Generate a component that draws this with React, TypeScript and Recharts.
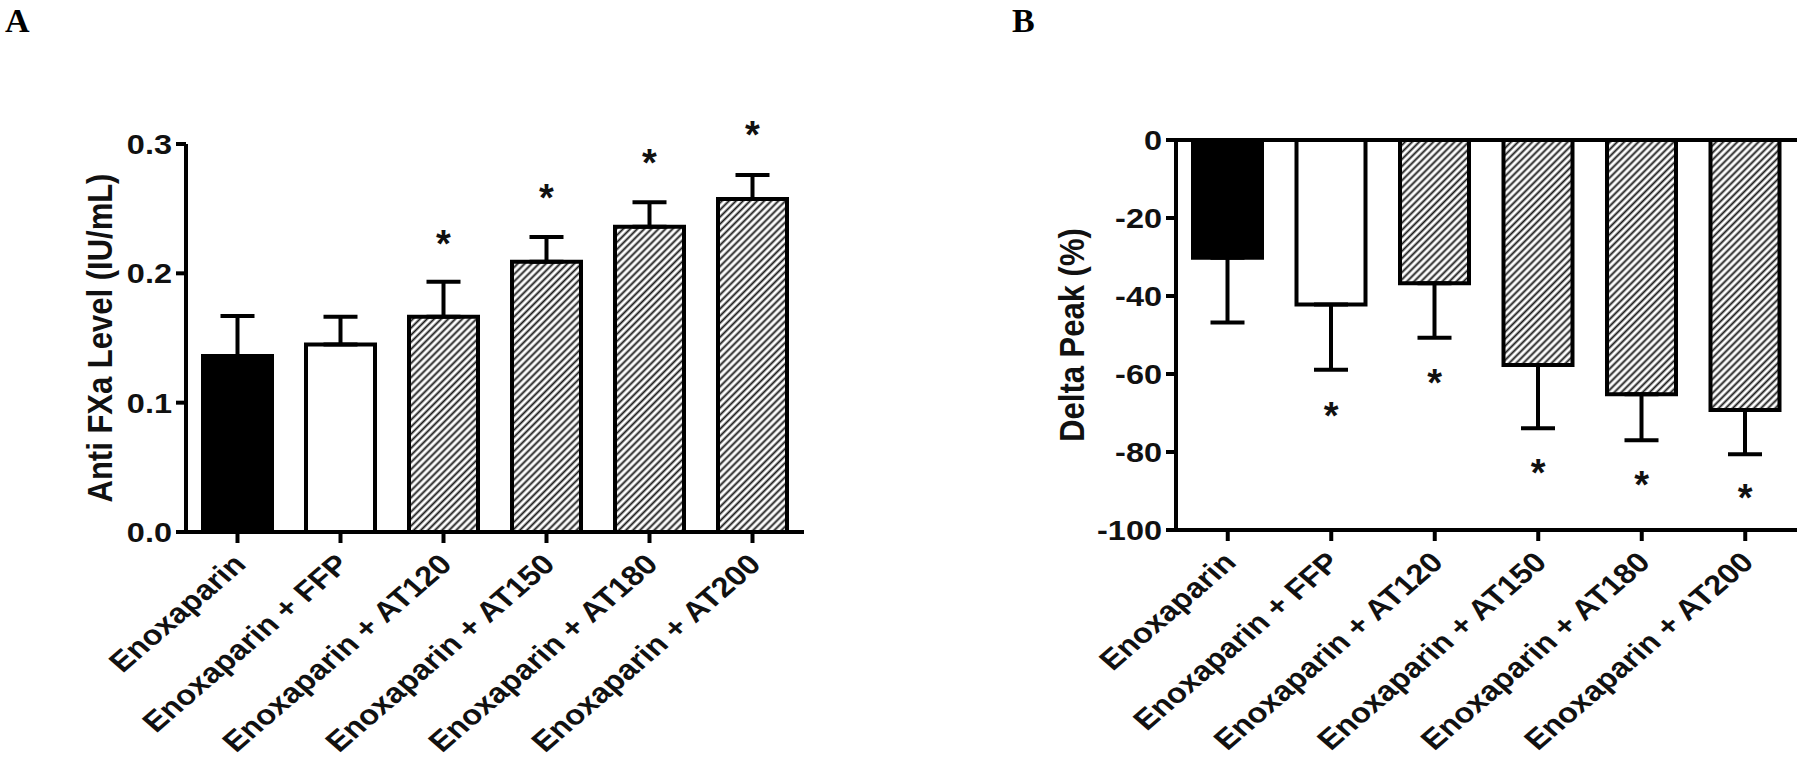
import React from "react";
import {
  ComposedChart,
  Bar,
  Cell,
  XAxis,
  YAxis,
  ErrorBar,
  Line,
  LabelList,
  ReferenceLine,
} from "recharts";

/* ---------------- Data ---------------- */

const GROUPS = [
  "Enoxaparin",
  "Enoxaparin + FFP",
  "Enoxaparin + AT120",
  "Enoxaparin + AT150",
  "Enoxaparin + AT180",
  "Enoxaparin + AT200",
];

// Panel A: Anti FXa level (IU/mL), mean + upper SEM, * = significant
const ANTI_FXA_MEAN = [0.136, 0.145, 0.1665, 0.209, 0.236, 0.2575];
const ANTI_FXA_ERR = [0.031, 0.0215, 0.027, 0.019, 0.019, 0.0185];
const ANTI_FXA_STAR = [null, null, 0.2296, 0.265, 0.292, 0.3138];
const ANTI_FXA_TICKS = [0, 0.1, 0.2, 0.3];

// Panel B: Delta peak (%), mean + lower SEM
const DELTA_PEAK_MEAN = [-30.2, -42.2, -36.7, -57.7, -65.2, -69.2];
const DELTA_PEAK_ERR = [16.6, 16.7, 14.0, 16.2, 11.8, 11.4];
const DELTA_PEAK_STAR = [null, -68.5, -60.0, -83.2, -86.2, -89.6];
const DELTA_PEAK_TICKS = [0, -20, -40, -60, -80, -100];

const FILLS = ["solid", "open", "hatch", "hatch", "hatch", "hatch"];

/* ---------------- Styling ---------------- */

const FONT = "'Liberation Sans', Arial, Helvetica, sans-serif";
const SERIF = "'Liberation Serif', 'Times New Roman', serif";
const SX = 1.16; // the figure is slightly stretched horizontally
const INK = "#111";

const tableA = GROUPS.map((name, i) => ({
  name,
  value: ANTI_FXA_MEAN[i],
  err: [0, ANTI_FXA_ERR[i]],
  star: ANTI_FXA_STAR[i],
}));

const tableB = GROUPS.map((name, i) => ({
  name,
  value: DELTA_PEAK_MEAN[i],
  err: [DELTA_PEAK_ERR[i], 0],
  star: DELTA_PEAK_STAR[i],
}));

const fillFor = (kind: string, hatchId: string) =>
  kind === "solid" ? "#000" : kind === "open" ? "#fff" : `url(#${hatchId})`;

const makeYTick = (fmt: (v: number) => string) => (props: any) => {
  const { x, y, payload } = props;
  return (
    <g transform={`translate(${x},${y})`}>
      <text
        transform={`scale(${SX},1)`}
        textAnchor="end"
        dy="0.36em"
        fontSize={28}
        fontWeight="bold"
        fontFamily={FONT}
        fill={INK}
      >
        {fmt(payload.value)}
      </text>
    </g>
  );
};

const XTick = (props: any) => {
  const { x, y, payload } = props;
  return (
    <g transform={`translate(${x + 10},${y + 18})`}>
      <text
        transform={`scale(${SX},1) rotate(-45)`}
        textAnchor="end"
        fontSize={28}
        fontWeight="bold"
        fontFamily={FONT}
        fill={INK}
      >
        {payload.value}
      </text>
    </g>
  );
};

const renderStar = (props: any) => {
  const { value, viewBox } = props;
  const x = viewBox?.x ?? props.x;
  const y = viewBox?.y ?? props.y;
  if (value == null || x == null || y == null || isNaN(x) || isNaN(y)) return null;
  return (
    <text
      x={x}
      y={y + 22}
      textAnchor="middle"
      fontSize={38}
      fontWeight="bold"
      fontFamily={FONT}
      fill={INK}
    >
      *
    </text>
  );
};

const Hatch = ({ id }: { id: string }) => (
  <defs>
    <pattern id={id} patternUnits="userSpaceOnUse" width={5} height={5} patternTransform="rotate(45)">
      <rect width={5} height={5} fill="#fff" />
      <line x1={2.5} y1={0} x2={2.5} y2={5} stroke="#1a1a1a" strokeWidth={1.9} />
    </pattern>
  </defs>
);

const axisStyle = { stroke: "#000", strokeWidth: 4 };

function PanelA() {
  return (
    <ComposedChart
      width={900}
      height={771}
      data={tableA}
      margin={{ top: 144, right: 96, bottom: 9, left: 96 }}
    >
      <Hatch id="hatchA" />
      <XAxis
        dataKey="name"
        interval={0}
        height={230}
        tickSize={11}
        tickMargin={5}
        axisLine={axisStyle}
        tickLine={axisStyle}
        tick={<XTick />}
      />
      <YAxis
        width={90}
        domain={[0, 0.3]}
        ticks={ANTI_FXA_TICKS}
        allowDataOverflow
        tickSize={10}
        tickMargin={4}
        axisLine={axisStyle}
        tickLine={axisStyle}
        tick={makeYTick((v) => v.toFixed(1))}
      />
      <Bar dataKey="value" barSize={69} stroke="#000" strokeWidth={4} isAnimationActive={false}>
        {tableA.map((d, i) => (
          <Cell key={d.name} fill={fillFor(FILLS[i], "hatchA")} />
        ))}
        <ErrorBar dataKey="err" direction="y" width={17} stroke="#000" strokeWidth={4} />
      </Bar>
      <Line
        dataKey="star"
        stroke="none"
        dot={false}
        activeDot={false}
        legendType="none"
        isAnimationActive={false}
      >
        <LabelList dataKey="star" content={renderStar} />
      </Line>
    </ComposedChart>
  );
}

function PanelB() {
  return (
    <ComposedChart
      width={900}
      height={771}
      data={tableB}
      margin={{ top: 140, right: 3, bottom: 11, left: 186 }}
    >
      <Hatch id="hatchB" />
      <XAxis
        dataKey="name"
        interval={0}
        height={230}
        tickSize={11}
        tickMargin={5}
        axisLine={axisStyle}
        tickLine={axisStyle}
        tick={<XTick />}
      />
      <YAxis
        width={90}
        domain={[-100, 0]}
        ticks={DELTA_PEAK_TICKS}
        allowDataOverflow
        tickSize={10}
        tickMargin={4}
        axisLine={axisStyle}
        tickLine={axisStyle}
        tick={makeYTick((v) => String(v))}
      />
      <Bar dataKey="value" barSize={69} stroke="#000" strokeWidth={4} isAnimationActive={false}>
        {tableB.map((d, i) => (
          <Cell key={d.name} fill={fillFor(FILLS[i], "hatchB")} />
        ))}
        <ErrorBar dataKey="err" direction="y" width={17} stroke="#000" strokeWidth={4} />
      </Bar>
      <ReferenceLine y={0} stroke="#000" strokeWidth={4} />
      <Line
        dataKey="star"
        stroke="none"
        dot={false}
        activeDot={false}
        legendType="none"
        isAnimationActive={false}
      >
        <LabelList dataKey="star" content={renderStar} />
      </Line>
    </ComposedChart>
  );
}

export default function App() {
  return (
    <div
      style={{
        position: "absolute",
        left: 0,
        top: 0,
        width: 1800,
        height: 771,
        background: "#fff",
        overflow: "hidden",
      }}
    >
      <div style={{ position: "absolute", left: 0, top: 0 }}>
        <PanelA />
      </div>
      <div style={{ position: "absolute", left: 900, top: 0 }}>
        <PanelB />
      </div>

      {/* panel letters and axis titles */}
      <svg
        width={1800}
        height={771}
        style={{ position: "absolute", left: 0, top: 0, pointerEvents: "none" }}
      >
        <text x={5} y={32} fontSize={34} fontWeight="bold" fontFamily={SERIF} fill="#000">
          A
        </text>
        <text x={1012} y={32} fontSize={34} fontWeight="bold" fontFamily={SERIF} fill="#000">
          B
        </text>
        <g transform={`translate(100,338) scale(${SX},1) rotate(-90)`}>
          <text
            textAnchor="middle"
            dominantBaseline="central"
            fontSize={31}
            fontWeight="bold"
            fontFamily={FONT}
            fill={INK}
          >
            Anti FXa Level (IU/mL)
          </text>
        </g>
        <g transform={`translate(1072,335) scale(${SX},1) rotate(-90)`}>
          <text
            textAnchor="middle"
            dominantBaseline="central"
            fontSize={31}
            fontWeight="bold"
            fontFamily={FONT}
            fill={INK}
          >
            Delta Peak (%)
          </text>
        </g>
      </svg>
    </div>
  );
}
